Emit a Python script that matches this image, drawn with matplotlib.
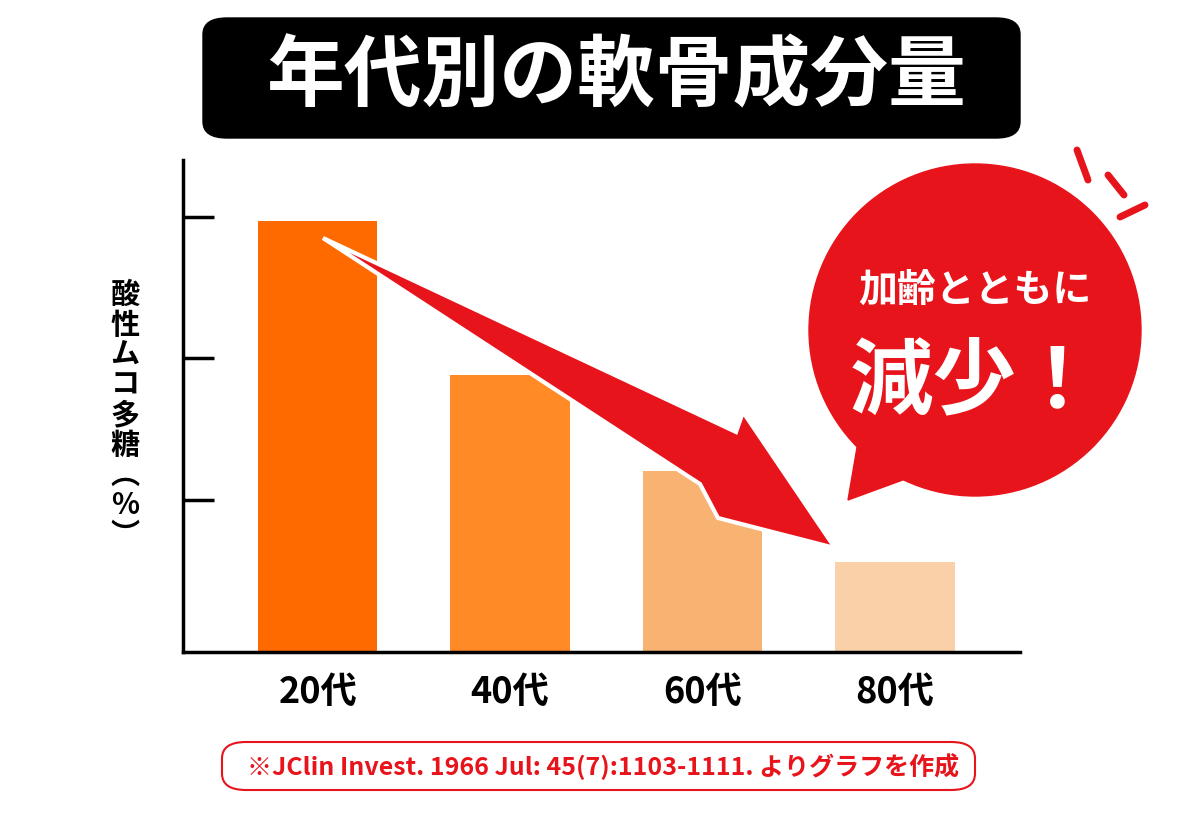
import matplotlib.pyplot as plt
from matplotlib.patches import FancyBboxPatch, Polygon, Ellipse
import numpy as np

plt.rcParams['font.family'] = ['Noto Sans CJK JP', 'DejaVu Sans']

# data (arbitrary units)
ages = ['20代', '40代', '60代', '80代']
values = [3.03, 1.95, 1.27, 0.63]
bar_colors = ['#FF6A00', '#FF8A26', '#F8B272', '#F9D0A8']
tick_pos = [1.07, 2.07, 3.06]

W, H = 1200, 816
fig = plt.figure(figsize=(12, 8.16), dpi=100)

def p(x, y):
    return (x / W, 1 - y / H)

ax = fig.add_axes([183 / W, 1 - 652 / H, (1020 - 183) / W, (652 - 160) / H])
x = np.arange(len(ages))
ax.bar(x, values, width=0.62, color=bar_colors, zorder=2)
ax.set_xlim(-0.7, 3.65)
ax.set_ylim(0, 3.46)
ax.set_xticks(x)
ax.set_xticklabels(ages, fontsize=26, fontweight='bold')
ax.set_yticks(tick_pos)
ax.set_yticklabels([])
ax.tick_params(axis='y', direction='in', length=22, width=2.5)
ax.tick_params(axis='x', length=0, pad=16)
for s in ['top', 'right']:
    ax.spines[s].set_visible(False)
ax.spines['left'].set_linewidth(2.5)
ax.spines['bottom'].set_linewidth(2.5)

# title box
fig.patches.append(FancyBboxPatch(p(203, 138), 817 / W, 120 / H,
                                  boxstyle='round,pad=0,rounding_size=0.02',
                                  transform=fig.transFigure, color='black'))
fig.text(*p(616, 78), '年代別の軟骨成分量', color='white', fontsize=56,
         fontweight='bold', ha='center', va='center')

# vertical y label
fig.text(*p(125, 415), '\n'.join('酸性ムコ多糖︵%︶'), fontsize=21, fontweight='bold',
         ha='center', va='center', linespacing=1.0)

# arrow
red = '#E8141B'
pts = [(323, 238), (736, 432), (743, 412), (835, 548), (718, 518), (700, 484)]
fig.patches.append(Polygon([p(*q) for q in pts], closed=True, transform=fig.transFigure,
                           facecolor=red, edgecolor='white', linewidth=3, zorder=5))

# speech bubble
cx, cy, r = 975, 330, 166
fig.patches.append(Polygon([p(860, 430), p(848, 500), p(930, 470)], closed=True,
                           transform=fig.transFigure, color=red, zorder=5))
fig.patches.append(Ellipse(p(cx, cy), 2 * r / W, 2 * r / H, transform=fig.transFigure,
                           color=red, zorder=5))
for (x0, y0), (x1, y1) in [((1077, 150), (1088, 180)), ((1108, 175), (1124, 195)),
                           ((1120, 217), (1145, 205))]:
    fig.add_artist(plt.Line2D([x0 / W, x1 / W], [1 - y0 / H, 1 - y1 / H], color=red,
                              lw=5, solid_capstyle='round', transform=fig.transFigure))
fig.text(*p(cx, 290), '加齢とともに', color='white', fontsize=28, fontweight='bold',
         ha='center', va='center', zorder=6)
fig.text(*p(cx, 383), '減少！', color='white', fontsize=60, fontweight='bold',
         ha='center', va='center', zorder=6)

# footnote
fig.patches.append(FancyBboxPatch(p(222, 790), 753 / W, 48 / H,
                                  boxstyle='round,pad=0,rounding_size=0.02',
                                  transform=fig.transFigure, facecolor='white',
                                  edgecolor=red, linewidth=1.5))
fig.text(*p(603, 767), '※JClin Invest. 1966 Jul: 45(7):1103-1111. よりグラフを作成',
         color=red, fontsize=18, fontweight='bold', ha='center', va='center')

fig.savefig('out.png', dpi=100)
